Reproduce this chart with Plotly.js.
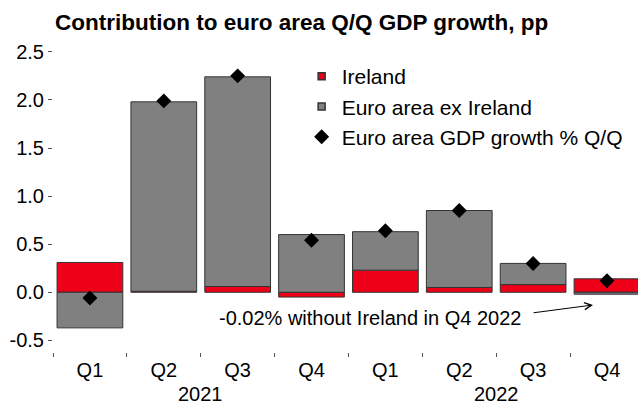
<!DOCTYPE html>
<html>
<head>
<meta charset="utf-8">
<script src="https://cdn.plot.ly/plotly-3.0.1.min.js"></script>
<style>html,body{margin:0;padding:0;background:#fff;}#chart{width:638px;height:405px;}</style>
</head>
<body>
<div id="chart"></div>
<script>
const years = ["2021","2021","2021","2021","2022","2022","2022","2022"];
const quarters = ["Q1","Q2","Q3","Q4","Q1","Q2","Q3","Q4"];
const ireland = [0.31, 0.01, 0.06, -0.05, 0.23, 0.05, 0.08, 0.14];
const exIreland = [-0.37, 1.97, 2.18, 0.60, 0.40, 0.80, 0.22, -0.02];
const gdpGrowth = [-0.06, 1.99, 2.25, 0.54, 0.64, 0.85, 0.30, 0.12];
const seriesNames = ["Ireland", "Euro area ex Ireland", "Euro area GDP growth % Q/Q"];
const yTickVals = [-0.5, 0, 0.5, 1, 1.5, 2, 2.5];

const RED = "#ee0018", GREY = "#808080", EDGE = "#333333";
const FONT = "Liberation Sans, Arial, sans-serif";
const cats = quarters.map((q, i) => q + " " + years[i]);

// year group centres from the category indices
const yearList = [...new Set(years)];
const yearCentres = yearList.map(y => {
  const idx = years.map((v, i) => v === y ? i : -1).filter(i => i >= 0);
  return idx.reduce((a, b) => a + b, 0) / idx.length;
});

const traces = [
  {type:"bar", x:cats, y:ireland, name:seriesNames[0], showlegend:false,
   marker:{color:RED, line:{color:EDGE, width:1}}},
  {type:"bar", x:cats, y:exIreland, name:seriesNames[1], showlegend:false,
   marker:{color:GREY, line:{color:EDGE, width:1}}},
  {type:"scatter", mode:"markers", x:cats, y:gdpGrowth, name:seriesNames[2], showlegend:false,
   marker:{symbol:"diamond", size:11.5, color:"#000"}},
  // legend proxies
  {type:"scatter", mode:"markers", x:[null], y:[null], name:seriesNames[0],
   marker:{symbol:"square", size:7, color:RED, line:{color:EDGE, width:1.5}}},
  {type:"scatter", mode:"markers", x:[null], y:[null], name:seriesNames[1],
   marker:{symbol:"square", size:7, color:GREY, line:{color:EDGE, width:1.5}}},
  {type:"scatter", mode:"markers", x:[null], y:[null], name:seriesNames[2],
   marker:{symbol:"diamond", size:11.5, color:"#000"}}
];

const annotations = yearList.map((y, k) => ({
  xref:"x", yref:"paper", x:yearCentres[k], y:-(394-352)/307, text:y, showarrow:false,
  font:{size:20, family:FONT, color:"#000"}, xanchor:"center", yanchor:"middle"
}));
annotations.push(
  {xref:"paper", yref:"y", x:(370-53)/585, y:(292.3-318)/96.2, text:"-0.02% without Ireland in Q4 2022",
   showarrow:false, font:{size:20, family:FONT, color:"#000"}, xanchor:"center", yanchor:"middle"},
  {xref:"paper", yref:"y", x:(593-53)/585, y:(292.3-305)/96.2, text:"",
   showarrow:true, axref:"pixel", ayref:"pixel", ax:-61, ay:8,
   arrowhead:5, arrowsize:1.4, arrowwidth:1, arrowcolor:"#000", standoff:0}
);

const layout = {
  width:638, height:405,
  margin:{l:53, r:0, t:45, b:53, pad:0},
  paper_bgcolor:"#fff", plot_bgcolor:"#fff",
  font:{family:FONT, color:"#000", size:20},
  barmode:"relative", bargap:0.11,
  title:{text:"<b>Contribution to euro area Q/Q GDP growth, pp</b>",
         font:{family:FONT, size:22.5, color:"#000"},
         xref:"container", x:55/638, xanchor:"left",
         yref:"container", y:1-22/405, yanchor:"middle"},
  xaxis:{type:"category", categoryorder:"array", categoryarray:cats,
         range:[-0.5, 7.42], showgrid:false, zeroline:false,
         showline:false, ticks:"outside", ticklen:4, tickcolor:"#555", tickwidth:1,
         tickson:"boundaries", tickmode:"array", tickvals:cats, ticktext:quarters,
         ticklabelstandoff:4, tickfont:{size:20, family:FONT}},
  yaxis:{range:[-0.621, 2.571], tickvals:yTickVals,
         ticktext:yTickVals.map(v => v.toFixed(1)),
         showgrid:false, zeroline:false, showline:false,
         ticks:"outside", ticklen:4, tickcolor:"#555", tickwidth:1,
         tickfont:{size:20, family:FONT}},
  legend:{x:0.425, xanchor:"left", y:1 - (56-45)/307, yanchor:"top",
          traceorder:"normal", bgcolor:"rgba(0,0,0,0)",
          font:{size:21, family:FONT, color:"#000"}},
  annotations:annotations
};

Plotly.newPlot("chart", traces, layout, {displayModeBar:false, staticPlot:true});
</script>
</body>
</html>
